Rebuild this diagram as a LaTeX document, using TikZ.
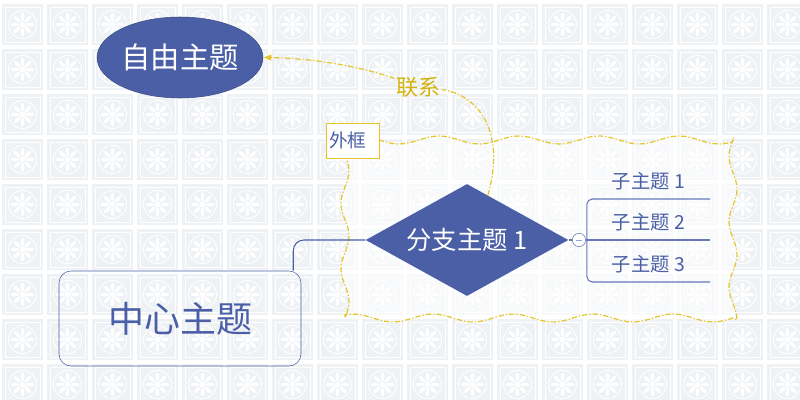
\documentclass[tikz,border=0pt]{standalone}
\usepackage{fontspec}
\setmainfont{Noto Sans CJK SC}
\usepackage{tikz}
\usetikzlibrary{shapes.geometric, arrows.meta, positioning}

\definecolor{topicblue}{HTML}{4A5FA6}
\definecolor{lineblue}{HTML}{6678BA}
\definecolor{tilecol}{HTML}{EEF2F5}
\definecolor{frameyellow}{HTML}{E6C42A}
\definecolor{relyellow}{HTML}{D6B20C}

\tikzset{
  freetopic/.style={ellipse, draw=topicblue!80!black, fill=topicblue, text=white,
    minimum width=120.75pt, minimum height=60.75pt, inner sep=0pt, font=\fontsize{22}{24}\selectfont},
  maintopic/.style={rectangle, rounded corners=9pt, draw=topicblue, text=topicblue,
    minimum width=181.5pt, minimum height=71.25pt, font=\fontsize{27}{30}\selectfont},
  branchtopic/.style={diamond, aspect=1.81, fill=topicblue, text=white, minimum width=152pt,
    minimum height=84pt, inner sep=0pt, font=\fontsize{19}{21}\selectfont},
  subtopic/.style={anchor=south, text=topicblue, minimum width=92pt, text depth=0pt,
    inner ysep=7.5pt, font=\fontsize{14.5}{16}\selectfont},
  toggle/.style={circle, draw=lineblue, fill=white, minimum size=10pt, inner sep=0pt,
    path picture={\draw[lineblue!70] ([xshift=-2.5pt]path picture bounding box.center)
      -- ([xshift=2.5pt]path picture bounding box.center);}},
  framelabel/.style={draw=frameyellow, fill=white, text=topicblue, minimum width=39.75pt,
    minimum height=26.25pt, text width=35pt, align=left, inner sep=1.5pt,
    font=\fontsize{14}{16}\selectfont},
  dashdot/.style={dash pattern=on 4pt off 1.5pt on 1pt off 1.5pt},
  frameline/.style={draw=frameyellow, line width=0.9pt, dashdot, fill=white, fill opacity=0.55},
  relline/.style={draw=frameyellow, line width=0.9pt, dashdot, -{Latex[length=6pt, width=5pt]}},
  mainline/.style={draw=topicblue, line width=0.8pt},
  subline/.style={draw=lineblue, line width=0.8pt}
}

\begin{document}
\begin{tikzpicture}[x=0.75pt, y=-0.75pt]
\useasboundingbox (0,0) rectangle (800,400);
\clip (0,0) rectangle (800,400);
\fill[white] (0,0) rectangle (800,400);
% tiled background
\foreach \i in {0,...,17}
  \foreach \j in {0,...,8} {
    \fill[tilecol] (45*\i+2,45*\j+4) rectangle +(41,41);
    \draw[white, line width=0.6pt] (45*\i+5,45*\j+7) rectangle +(35,35);
    \draw[white, line width=0.7pt] (45*\i+22.5,45*\j+24.5) circle (14);
    \fill[white] (45*\i+22.5,45*\j+24.5) circle (3);
    \foreach \a in {0,45,...,315}
      \fill[white, rotate around={\a:(45*\i+22.5,45*\j+24.5)}]
        (45*\i+22.5,45*\j+17) ellipse (1.8 and 4.5);
  }

% outer frame
\path[frameline] plot[domain=379:733, samples=60] (\x, {140+4*sin(4.5*(\x-379))})
  -- plot[domain=140:320, samples=40] ({733-4*sin(5.5*(\x-140))}, \x)
  -- plot[domain=733:345, samples=60] (\x, {318+4*sin(4.5*(733-\x))})
  -- plot[domain=318:158, samples=40] ({345+4*sin(5.5*(318-\x))}, \x);
\node[framelabel] (label) at (352.5,140.5) {外框};

\node[freetopic] (free) at (180,57.5) {自由主题};
\node[maintopic] (main) at (180,318.5) {中心主题};
\node[branchtopic] (branch) at (467,240) {分支主题 1};
\node[toggle] (tog) at (579,240) {};

\node[subtopic] (sub1) at (648.5,199) {子主题 1};
\node[subtopic] (sub2) at (648.5,240) {子主题 2};
\node[subtopic] (sub3) at (648.5,282) {子主题 3};

\draw[mainline, rounded corners=8pt] ([xshift=-6pt]main.north east) |- (branch.west);
\draw[subline] (branch.east) -- (tog.west);
\draw[subline] (tog.east) -- (sub2.south east);
\draw[subline, rounded corners=4pt] (sub1.south east) -- (sub1.south west)
  -- (sub3.south west) -- (sub3.south east);

% relationship
\node[text=relyellow, font=\fontsize{16.5}{18}\selectfont, inner sep=1pt] (rel) at (418,87) {联系};
\draw[relline] (branch.65) .. controls (508,125) and (472,93) .. (rel)
  .. controls (360,66) and (310,58) .. (free.east);
\end{tikzpicture}
\end{document}
